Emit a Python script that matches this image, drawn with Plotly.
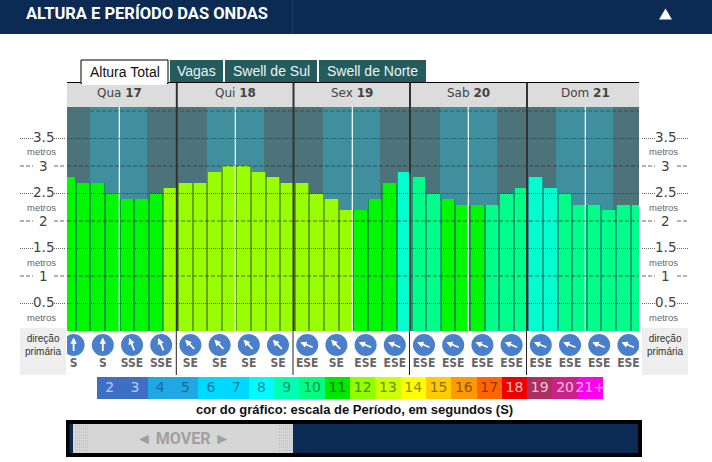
import math
import plotly.graph_objects as go

# ---------- data ----------
TITLE = "ALTURA E PERÍODO DAS ONDAS"
TABS = ["Altura Total", "Vagas", "Swell de Sul", "Swell de Norte"]
DAY_NAMES = ["Qua", "Qui", "Sex", "Sab", "Dom"]
DAY_NUMBERS = ["17", "18", "19", "20", "21"]
WAVE_HEIGHT = [2.8, 2.7, 2.7, 2.5, 2.4, 2.4, 2.5, 2.6,
               2.7, 2.7, 2.9, 3.0, 3.0, 2.9, 2.8, 2.7,
               2.7, 2.5, 2.4, 2.2, 2.2, 2.4, 2.7, 2.9,
               2.8, 2.5, 2.4, 2.3, 2.3, 2.3, 2.5, 2.6,
               2.8, 2.6, 2.5, 2.3, 2.3, 2.2, 2.3, 2.3]
WAVE_PERIOD = [11, 11, 11, 11, 11, 11, 11, 12,
               12, 12, 12, 12, 12, 12, 12, 12,
               12, 12, 12, 12, 11, 11, 11, 9,
               10, 10, 11, 11, 11, 10, 10, 10,
               9, 9, 10, 10, 10, 10, 10, 10]
DIRECTIONS = ["S", "S", "SSE", "SSE",
              "SE", "SE", "SE", "SE",
              "ESE", "SE", "ESE", "ESE",
              "ESE", "ESE", "ESE", "ESE",
              "ESE", "ESE", "ESE", "ESE"]
DIRECTION_ANGLE = {"S": 0, "SSE": -22.5, "SE": -45, "ESE": -67.5}
SCALE_LABELS = ["2", "3", "4", "5", "6", "7", "8", "9", "10", "11", "12", "13",
                "14", "15", "16", "17", "18", "19", "20", "21+"]
SCALE_COLORS = ["#3d6fc4", "#3d6fc4", "#1fa8e4", "#1fa8e4", "#00d8ff", "#00d8ff",
                "#00fcff", "#00ffb4", "#00ff80", "#00e800", "#90ff00", "#ccff00",
                "#ffff00", "#ffcc00", "#ff9900", "#ff6600", "#ee0000", "#a93060",
                "#cc2288", "#ff00ee"]
SCALE_TEXT = ["#b9cdf0", "#b9cdf0", "#1f6a92", "#1f6a92", "#0a7f98", "#0a7f98",
              "#0a8f90", "#0a8f6a", "#0a8f50", "#0a6a0a", "#4d8a00", "#6d8a00",
              "#8a8a00", "#8a6e00", "#8a5200", "#8a3800", "#ffc0c0", "#f0c8d8",
              "#f4c0e0", "#ffc0ff"]
BAR_COLOR = {9: "#00ffcc", 10: "#00ff88", 11: "#00f800", 12: "#99ff00"}
GAP_COLOR = {9: "#10a098", 10: "#10a078", 11: "#0a9a40", 12: "#62a818"}
TICK_VALUES = [0.5, 1, 1.5, 2, 2.5, 3, 3.5]
TICK_LABELS = ["0.5", "1", "1.5", "2", "2.5", "3", "3.5"]

# ---------- layout helpers ----------
W, H = 712, 462
px = lambda x: x / W
py = lambda y: 1 - y / H
NAVY = "#0b2a54"
TEAL = "#245c5e"
GREY = "#444444"
SANS = "Liberation Sans"
VERD = "DejaVu Sans"
NARROW = "DejaVu Sans Condensed, Roboto, sans-serif"
HEAVY = "Roboto, sans-serif"
DASH = "4px,2px"
DOT = "1px,1px"
shapes, notes = [], []


def rect(x0, y0, x1, y1, fill, layer="below", line=None):
    shapes.append(dict(type="rect", xref="paper", yref="paper", layer=layer,
                       x0=px(x0), x1=px(x1), y0=py(y0), y1=py(y1),
                       fillcolor=fill, line=line or dict(width=0)))


def line(x0, y0, x1, y1, color, width=1, dash="solid", layer="above"):
    shapes.append(dict(type="line", xref="paper", yref="paper", layer=layer,
                       x0=px(x0), x1=px(x1), y0=py(y0), y1=py(y1),
                       line=dict(color=color, width=width, dash=dash)))


def text(x, y, s, size, color, family=SANS, anchor="center"):
    notes.append(dict(xref="paper", yref="paper", x=px(x), y=py(y), text=s, showarrow=False,
                      xanchor=anchor, yanchor="middle", borderpad=0,
                      font=dict(size=size, color=color, family=family)))


# header
rect(0, 0, 712, 34, NAVY)
line(292.5, 0, 292.5, 34, "#1f3f69", layer="below")
shapes.append(dict(type="path", xref="paper", yref="paper", layer="above",
                   path=f"M {px(659)} {py(19.5)} L {px(665.5)} {py(8.5)} L {px(672)} {py(19.5)} Z",
                   fillcolor="white", line=dict(width=0)))
text(25, 14, f"<b>{TITLE}</b>", 16.5, "white", HEAVY, "left")

# tabs
rect(67, 82, 639, 83.5, "black")
rect(81, 60, 168, 83.5, "white", "above", dict(color="black", width=1))
rect(82, 82, 167, 85, "white", "above")
text(124.5, 72, TABS[0], 14, "#111111")
for (x0, x1), label in zip([(170, 223), (225, 317), (319, 426)], TABS[1:]):
    rect(x0, 60, x1, 82, TEAL)
    text((x0 + x1) / 2, 71, label, 14, "#e8f4f4")

# day header and bands
rect(67, 83, 639, 107, "#dcdcdc")
rect(67, 107, 639, 331, "#4d737a")
for x0, x1 in [(90, 147), (207, 264), (323, 380), (440, 497), (556, 613)]:
    rect(x0, 107, x1, 331, "#3f8f9f")
for xc, name, num in zip([119, 235, 352, 468, 585], DAY_NAMES, DAY_NUMBERS):
    text(xc, 93.5, f"{name} <b>{num}</b>", 12, GREY, VERD)
    line(xc + 0.3, 107, xc + 0.3, 331, "white", 1.2)
for xs in [176.8, 293.5, 410, 527]:
    line(xs, 83, xs, 331, "#333333", 2)
    line(xs - 0.5, 331, xs - 0.5, 375, "#222222", 1)

# y grid, axis labels (both sides)
for v, lab in zip(TICK_VALUES, TICK_LABELS):
    whole = float(v).is_integer()
    dash = DASH if whole else DOT
    y = 331 - 55 * v
    for seg in [(20, 33), (54, 66), (642, 655), (677, 688)]:
        line(seg[0], y, seg[1], y, "#666666", 1, dash)
    line(67, y, 639, y, "rgba(40,50,50,0.7)", 1, dash)
    for xc in (43, 665):
        text(xc, y - 0.5 if whole else y - 1.5, lab, 13.5, GREY, VERD)
        if not whole:
            text(xc - 1.5, y + 13.5, "metros", 9.5, "#666666")
line(90, 111, 639, 111, "rgba(40,50,50,0.5)", 1, DASH)

# direction boxes
for x0, xc in [(20, 43), (642, 665)]:
    rect(x0, 328, x0 + 46, 375, "#eeeeee")
    text(xc, 345, "direção<br>primária", 10, "#333333")

# scale caption
text(354, 409, "<b>cor do gráfico: escala de Período, em segundos (S)</b>", 13, "#111111")

# scroller
rect(66, 420, 642, 457, "black")
rect(69.5, 424, 638, 453, NAVY)
rect(73, 424, 293, 453, "#d6d6d6")
for x0 in (75, 279):
    for yy in range(426, 452, 3):
        line(x0, yy, x0 + 14, yy, "#b5b5b5", 1, DOT)
text(183, 438, "<b>◄ MOVER ►</b>", 16, "#a0a0a0", HEAVY)

# ---------- traces ----------
idx = list(range(len(WAVE_HEIGHT)))
colors = [BAR_COLOR[p] for p in WAVE_PERIOD]
gap_colors = [GAP_COLOR[p] for p in WAVE_PERIOD]
fig = go.Figure()
fig.add_bar(x=idx, y=WAVE_HEIGHT, width=1.0, marker=dict(color=gap_colors, line_width=0),
            hoverinfo="skip", showlegend=False)
fig.add_bar(x=idx, y=WAVE_HEIGHT, width=0.86, marker=dict(color=colors, line_width=0),
            name="Altura", showlegend=False)

# direction markers: one for every pair of bars
dir_x = [2 * i + 0.35 for i in range(len(DIRECTIONS))]
fig.add_scatter(x=dir_x, y=[345] * len(dir_x), xaxis="x", yaxis="y2", mode="markers",
                marker=dict(size=22, color="#4a7fcc", line_width=0), showlegend=False, hoverinfo="skip")
fig.add_scatter(x=dir_x, y=[364] * len(dir_x), xaxis="x", yaxis="y2", mode="text", text=DIRECTIONS,
                textfont=dict(family=NARROW, size=12, color="#666666", weight="bold"),
                textposition="middle center", cliponaxis=False, showlegend=False, hoverinfo="skip")
for xv, d in zip(dir_x, DIRECTIONS):
    a = math.radians(DIRECTION_ANGLE[d])
    dx, dy = 7.5 * math.sin(a), 7.5 * math.cos(a)
    notes.append(dict(xref="x", yref="y2", x=xv + dx / 14.6, y=345 - dy, ax=-2 * dx, ay=2 * dy,
                      axref="pixel", ayref="pixel", text="", showarrow=True, arrowhead=2,
                      arrowsize=0.7, arrowwidth=1.8, arrowcolor="white", standoff=0))

# period scale
scale_x = list(range(len(SCALE_LABELS)))
fig.add_bar(x=scale_x, y=[1] * len(scale_x), width=1.0, xaxis="x3", yaxis="y3",
            marker=dict(color=SCALE_COLORS, line_width=0), showlegend=False, hoverinfo="skip")
fig.add_scatter(x=scale_x, y=[0.5] * len(scale_x), xaxis="x3", yaxis="y3", mode="text", text=SCALE_LABELS,
                textfont=dict(family=VERD, size=14, color=SCALE_TEXT), textposition="middle center",
                cliponaxis=False, showlegend=False, hoverinfo="skip")

hidden = dict(visible=False, fixedrange=True)
fig.update_layout(
    width=W, height=H, autosize=False, margin=dict(l=0, r=0, t=0, b=0),
    paper_bgcolor="white", plot_bgcolor="rgba(0,0,0,0)", barmode="overlay", bargap=0,
    showlegend=False, shapes=shapes, annotations=notes, font=dict(family=SANS),
    xaxis=dict(domain=[px(67), px(639)], range=[-1.5 / 14.6, 570.5 / 14.6], anchor="y", **hidden),
    yaxis=dict(domain=[py(331), py(107)], range=[0, 224 / 55], anchor="x", **hidden),
    yaxis2=dict(domain=[py(378), py(331)], range=[378, 331], anchor="x", **hidden),
    xaxis3=dict(domain=[px(97), px(603)], range=[-0.5, 19.5], anchor="y3", **hidden),
    yaxis3=dict(domain=[py(399), py(377)], range=[0, 1], anchor="x3", **hidden),
)
fig.write_html("out.html", config=dict(displayModeBar=False),
               post_script="document.body.style.margin='0';document.body.style.overflow='hidden';")
